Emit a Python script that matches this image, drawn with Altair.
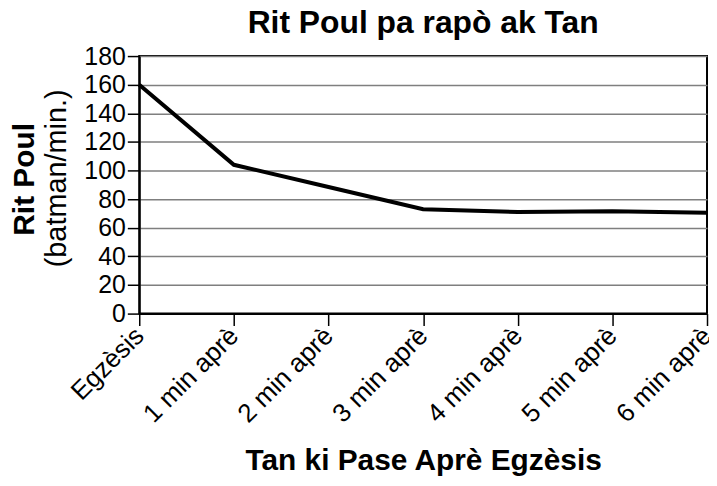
import altair as alt
import pandas as pd

categories = ["Egzèsis", "1 min aprè", "2 min aprè", "3 min aprè", "4 min aprè", "5 min aprè", "6 min aprè"]
heart_rate = [160, 104, 88.5, 73, 71, 71.5, 70.5]
y_ticks = [0, 20, 40, 60, 80, 100, 120, 140, 160, 180]

FONT = "Liberation Sans"

df = pd.DataFrame({"Tan": categories, "Rit": heart_rate})

line = alt.Chart(df).mark_line(color="black", strokeWidth=4, strokeJoin="miter").encode(
    x=alt.X("Tan:N", sort=categories, scale=alt.Scale(padding=0),
            axis=alt.Axis(title="Tan ki Pase Aprè Egzèsis", labelAngle=-45, labelAlign="right",
                          labelBaseline="middle", labelFontSize=26, labelPadding=6,
                          titleFontSize=30, titleFontWeight="bold",
                          titleBaseline="alphabetic", titleY=157,
                          tickSize=12, tickColor="black", tickWidth=1.5,
                          domainColor="black", domainWidth=2, grid=False,
                          labelColor="black", titleColor="black", labelFont=FONT, titleFont=FONT)),
    y=alt.Y("Rit:Q", scale=alt.Scale(domain=[0, 180], nice=False),
            axis=alt.Axis(title=None, values=y_ticks, labelFontSize=25, labelPadding=2,
                          tickSize=12, tickColor="black", tickWidth=1.5,
                          domainColor="black", domainWidth=2,
                          grid=True, gridColor="#7f7f7f", gridWidth=1.5,
                          labelColor="black", labelFont=FONT)),
)

ylab = pd.DataFrame({"t": ["Rit Poul"]})
ylab2 = pd.DataFrame({"t": ["(batman/min.)"]})

t1 = alt.Chart(ylab).mark_text(angle=270, fontSize=30, fontWeight="bold", font=FONT,
                               color="black", baseline="middle", align="center").encode(
    text="t:N", x=alt.value(-115), y=alt.value(124))
t2 = alt.Chart(ylab2).mark_text(angle=270, fontSize=29, font=FONT,
                                color="black", baseline="middle", align="center").encode(
    text="t:N", x=alt.value(-83), y=alt.value(123))

chart = alt.layer(line, t1, t2).properties(
    width=571, height=259,
    title=alt.TitleParams("Rit Poul pa rapò ak Tan", fontSize=32, fontWeight="bold",
                          font=FONT, color="black", anchor="middle", offset=4),
    autosize=alt.AutoSizeParams(type="none"),
    padding={"left": 132, "top": 47, "right": 2, "bottom": 164},
).configure_view(stroke="black", strokeWidth=2)

chart.save("out.html", embed_options={"renderer": "svg", "actions": False})
